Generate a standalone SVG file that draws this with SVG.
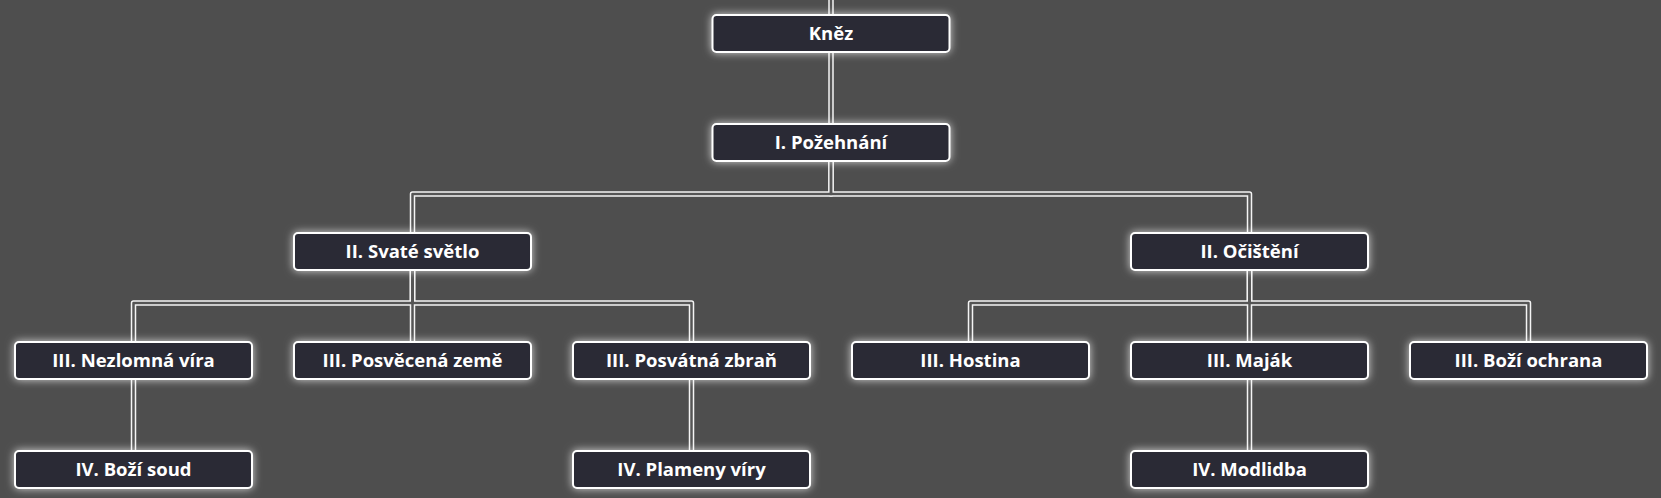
<svg xmlns="http://www.w3.org/2000/svg" width="1661" height="498" viewBox="0 0 1661 498">
<defs>
<filter id="glow" x="-20%" y="-60%" width="140%" height="220%">
<feDropShadow dx="0" dy="0" stdDeviation="4" flood-color="#ffffff" flood-opacity="0.75"/>
</filter>
<style>
.bg{fill:#4e4e4e}
.node rect{fill:#2a2c35;stroke:#ffffff;stroke-width:2;filter:url(#glow)}
.node text{fill:#ffffff;font-family:"Open Sans","Noto Sans",Lato,sans-serif;font-weight:700;font-size:18.5px;text-anchor:middle}
.outer{fill:none;stroke:#f4f4f4;stroke-width:5.5;stroke-linejoin:round}
.inner{fill:none;stroke:#555555;stroke-width:2.5;stroke-linejoin:round}
</style>
<path id="e0" d="M831 0V15"/>
<path id="e1" d="M831 52V124"/>
<path id="e2" d="M831 161V194H412.5V233"/>
<path id="e3" d="M831 161V194H1249.5V233"/>
<path id="e4" d="M412.5 270V303H133.5V342"/>
<path id="e5" d="M412.5 270V342"/>
<path id="e6" d="M412.5 270V303H691.5V342"/>
<path id="e7" d="M1249.5 270V303H970.5V342"/>
<path id="e8" d="M1249.5 270V342"/>
<path id="e9" d="M1249.5 270V303H1528.5V342"/>
<path id="e10" d="M133.5 379V451"/>
<path id="e11" d="M691.5 379V451"/>
<path id="e12" d="M1249.5 379V451"/>
</defs>
<rect class="bg" x="0" y="0" width="1661" height="498"/>
<g id="connectors">
<g class="outer">
<use href="#e0"/><use href="#e1"/><use href="#e2"/><use href="#e3"/><use href="#e4"/><use href="#e5"/><use href="#e6"/><use href="#e7"/><use href="#e8"/><use href="#e9"/><use href="#e10"/><use href="#e11"/><use href="#e12"/>
</g>
<g class="inner">
<use href="#e0"/><use href="#e1"/><use href="#e2"/><use href="#e3"/><use href="#e4"/><use href="#e5"/><use href="#e6"/><use href="#e7"/><use href="#e8"/><use href="#e9"/><use href="#e10"/><use href="#e11"/><use href="#e12"/>
</g>
</g>
<g id="n-knez" class="node"><rect x="712.5" y="15" width="237" height="37" rx="4"/><text x="831" y="40">Kněz</text></g>
<g id="n-pozehnani" class="node"><rect x="712.5" y="124" width="237" height="37" rx="4"/><text x="831" y="149">I. Požehnání</text></g>
<g id="n-svate-svetlo" class="node"><rect x="294" y="233" width="237" height="37" rx="4"/><text x="412.5" y="258">II. Svaté světlo</text></g>
<g id="n-ocisteni" class="node"><rect x="1131" y="233" width="237" height="37" rx="4"/><text x="1249.5" y="258">II. Očištění</text></g>
<g id="n-nezlomna-vira" class="node"><rect x="15" y="342" width="237" height="37" rx="4"/><text x="133.5" y="367">III. Nezlomná víra</text></g>
<g id="n-posvecena-zeme" class="node"><rect x="294" y="342" width="237" height="37" rx="4"/><text x="412.5" y="367">III. Posvěcená země</text></g>
<g id="n-posvatna-zbran" class="node"><rect x="573" y="342" width="237" height="37" rx="4"/><text x="691.5" y="367">III. Posvátná zbraň</text></g>
<g id="n-hostina" class="node"><rect x="852" y="342" width="237" height="37" rx="4"/><text x="970.5" y="367">III. Hostina</text></g>
<g id="n-majak" class="node"><rect x="1131" y="342" width="237" height="37" rx="4"/><text x="1249.5" y="367">III. Maják</text></g>
<g id="n-bozi-ochrana" class="node"><rect x="1410" y="342" width="237" height="37" rx="4"/><text x="1528.5" y="367">III. Boží ochrana</text></g>
<g id="n-bozi-soud" class="node"><rect x="15" y="451" width="237" height="37" rx="4"/><text x="133.5" y="476">IV. Boží soud</text></g>
<g id="n-plameny-viry" class="node"><rect x="573" y="451" width="237" height="37" rx="4"/><text x="691.5" y="476">IV. Plameny víry</text></g>
<g id="n-modlidba" class="node"><rect x="1131" y="451" width="237" height="37" rx="4"/><text x="1249.5" y="476">IV. Modlidba</text></g>
</svg>
